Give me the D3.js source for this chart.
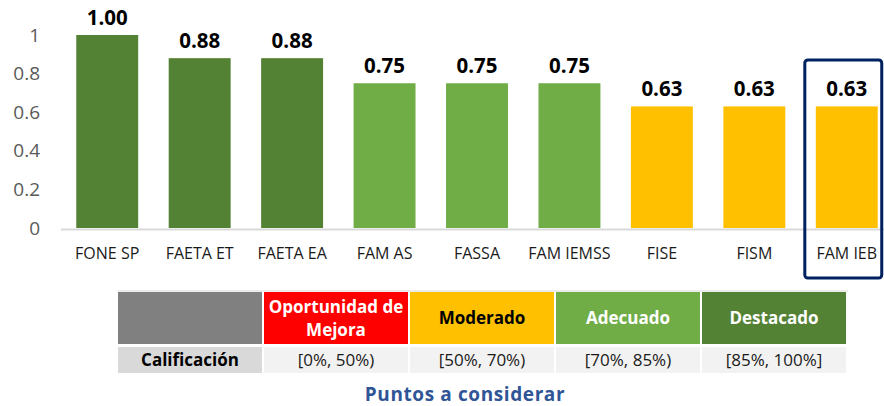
<!DOCTYPE html>
<html>
<head>
<meta charset="utf-8">
<script src="https://cdn.jsdelivr.net/npm/d3@7"></script>
<style>
  body { margin: 0; background: #fff; }
  svg { display: block; font-family: "Open Sans", sans-serif; }
</style>
</head>
<body>
<svg id="chart" width="884" height="406"></svg>
<script>
// chart data
const categories = ["FONE SP", "FAETA ET", "FAETA EA", "FAM AS", "FASSA", "FAM IEMSS", "FISE", "FISM", "FAM IEB"];
const values = [1.00, 0.88, 0.88, 0.75, 0.75, 0.75, 0.63, 0.63, 0.63];
const yTicks = [0, 0.2, 0.4, 0.6, 0.8, 1];
const highlighted = "FAM IEB";

// legend table data
const levelNames = ["Oportunidad de Mejora", "Moderado", "Adecuado", "Destacado"];
const levelRanges = ["[0%, 50%)", "[50%, 70%)", "[70%, 85%)", "[85%, 100%]"];
const levelBreaks = [0.5, 0.7, 0.85];
const levelColors = ["#ff0000", "#ffc000", "#70ad47", "#548235"];
const levelText = ["#ffffff", "#000000", "#ffffff", "#ffffff"];
const rowLabel = "Calificación";
const tableTitle = "Puntos a considerar";

const svg = d3.select("#chart");

const margin = {top: 35, left: 61, bottom: 228};
const color = d3.scaleThreshold().domain(levelBreaks).range(levelColors);

const x = d3.scaleBand()
    .domain(categories)
    .range([61, 893])
    .paddingInner(0.33)
    .paddingOuter(0.165);

const y = d3.scaleLinear()
    .domain([0, 1])
    .range([margin.bottom, margin.top]);

// y axis labels only (no line, no ticks)
const yAxis = svg.append("g")
    .attr("transform", "translate(40,0)")
    .call(d3.axisLeft(y).tickValues(yTicks).tickFormat(d3.format("~g")).tickSize(0).tickPadding(0));
yAxis.select(".domain").remove();
yAxis.selectAll("text")
    .attr("font-family", "Open Sans, sans-serif")
    .attr("font-size", 19)
    .attr("fill", "#595959");

// bars
svg.append("g").selectAll("rect")
    .data(values)
    .enter().append("rect")
    .attr("x", (d, i) => x(categories[i]))
    .attr("y", d => y(d))
    .attr("width", x.bandwidth())
    .attr("height", d => y(0) - y(d))
    .attr("fill", d => color(d));

// baseline
svg.append("line")
    .attr("x1", x.range()[0]).attr("x2", x.range()[1])
    .attr("y1", y(0) + 1.5).attr("y2", y(0) + 1.5)
    .attr("stroke", "#d9d9d9")
    .attr("stroke-width", 2);

// value labels
svg.append("g").selectAll("text")
    .data(values)
    .enter().append("text")
    .attr("x", (d, i) => x(categories[i]) + x.bandwidth() / 2)
    .attr("y", d => y(d) - 10)
    .attr("text-anchor", "middle")
    .attr("font-size", 20.5)
    .attr("font-weight", "bold")
    .attr("fill", "#000")
    .text(d => d.toFixed(2));

// category labels
svg.append("g").selectAll("text")
    .data(categories)
    .enter().append("text")
    .attr("x", d => x(d) + x.bandwidth() / 2)
    .attr("y", y(0) + 31)
    .attr("text-anchor", "middle")
    .attr("font-size", 16)
    .attr("fill", "#1a1a1a")
    .text(d => d);

// highlight box round the last category
svg.append("rect")
    .attr("x", x(highlighted) - 11)
    .attr("y", 60)
    .attr("width", x.bandwidth() + 15)
    .attr("height", 218)
    .attr("rx", 3)
    .attr("fill", "none")
    .attr("stroke", "#002060")
    .attr("stroke-width", 3);

// legend table
const tx = 118, colW = 146, gap = 2;
const row1 = {y: 292, h: 52}, row2 = {y: 347, h: 26};
const table = svg.append("g");

table.append("line")
    .attr("x1", tx).attr("x2", tx + 5 * colW)
    .attr("y1", 291).attr("y2", 291)
    .attr("stroke", "#d9d9d9").attr("stroke-width", 1);

table.append("rect")
    .attr("x", tx).attr("y", row1.y)
    .attr("width", colW - gap).attr("height", row1.h)
    .attr("fill", "#808080");
table.append("rect")
    .attr("x", tx).attr("y", row2.y)
    .attr("width", colW - gap).attr("height", row2.h)
    .attr("fill", "#d9d9d9");
table.append("text")
    .attr("x", tx + (colW - gap) / 2).attr("y", row2.y + row2.h / 2 + 6)
    .attr("text-anchor", "middle")
    .attr("font-size", 17).attr("font-weight", "bold")
    .attr("fill", "#000")
    .text(rowLabel);

levelNames.forEach((name, i) => {
    const cx = tx + (i + 1) * colW;
    table.append("rect")
        .attr("x", cx).attr("y", row1.y)
        .attr("width", colW - gap).attr("height", row1.h)
        .attr("fill", levelColors[i]);
    table.append("rect")
        .attr("x", cx).attr("y", row2.y)
        .attr("width", colW - gap).attr("height", row2.h)
        .attr("fill", "#f2f2f2");

    // two lines for long header
    const lines = name.length > 12 ? ["Oportunidad de", "Mejora"] : [name];
    const t = table.append("text")
        .attr("text-anchor", "middle")
        .attr("font-size", 17).attr("font-weight", "bold")
        .attr("fill", levelText[i]);
    lines.forEach((l, j) => {
        t.append("tspan")
            .attr("x", cx + (colW - gap) / 2)
            .attr("y", row1.y + row1.h / 2 + 6 + (j - (lines.length - 1) / 2) * 23)
            .text(l);
    });

    table.append("text")
        .attr("x", cx + (colW - gap) / 2).attr("y", row2.y + row2.h / 2 + 6)
        .attr("text-anchor", "middle")
        .attr("font-size", 17)
        .attr("fill", "#1a1a1a")
        .text(levelRanges[i]);
});

svg.append("text")
    .attr("x", 465).attr("y", 401)
    .attr("text-anchor", "middle")
    .attr("font-size", 19).attr("font-weight", "bold")
    .attr("letter-spacing", 0.6)
    .attr("fill", "#2f5597")
    .text(tableTitle);
</script>
</body>
</html>
